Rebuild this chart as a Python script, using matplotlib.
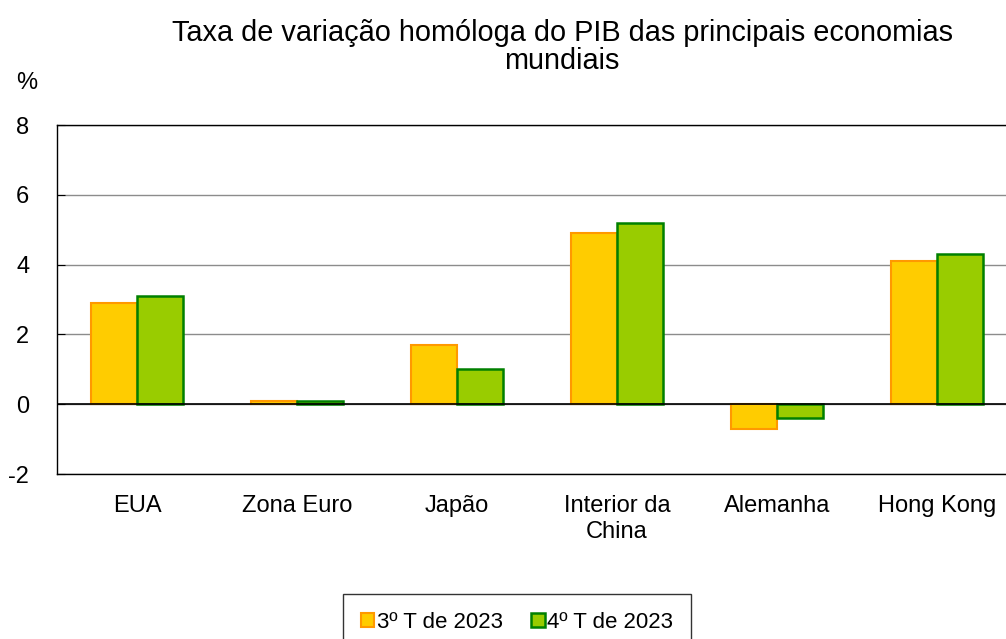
import numpy as np
import matplotlib.pyplot as plt

plt.rcParams['font.family'] = ['Liberation Sans', 'DejaVu Sans']

categories = ["EUA", "Zona Euro", "Japão", "Interior da\nChina", "Alemanha", "Hong Kong"]
q3_2023 = [2.9, 0.1, 1.7, 4.9, -0.7, 4.1]
q4_2023 = [3.1, 0.1, 1.0, 5.2, -0.4, 4.3]
series_labels = ["3º T de 2023", "4º T de 2023"]
y_ticks = [-2, 0, 2, 4, 6, 8]

fig = plt.figure(figsize=(10.06, 6.39), dpi=100)
# axes run past the right edge of the figure, as in the reference
ax = fig.add_axes([57 / 1006, 1 - 474 / 639, 960 / 1006, 349 / 639])

x = np.arange(len(categories))
w = 0.2875
b1 = ax.bar(x - w / 2, q3_2023, w, color="#FFCC00", edgecolor="#FF9900", linewidth=1.5,
            label=series_labels[0], zorder=3)
b2 = ax.bar(x + w / 2, q4_2023, w, color="#99CC00", edgecolor="#008000", linewidth=1.8,
            label=series_labels[1], zorder=3)

ax.set_xlim(-0.5, len(categories) - 0.5)
ax.set_ylim(-2, 8)
ax.set_yticks(y_ticks)
ax.set_yticklabels([str(t) for t in y_ticks])
ax.yaxis.grid(True, color="#8c8c8c", linewidth=1)
ax.axhline(0, color="black", linewidth=1.2, zorder=4)
ax.set_axisbelow(True)
ax.set_xticks(x)
ax.set_xticklabels(categories, fontsize=17, linespacing=1.25)
ax.tick_params(axis="x", length=0, pad=15)
ax.tick_params(axis="y", direction="in", length=6, labelsize=17, pad=20)
for s in ax.spines.values():
    s.set_color("black")
    s.set_linewidth(1)

fig.text(16 / 1006, 1 - 83 / 639, "%", fontsize=17, va="center", ha="left")
fig.text(562 / 1006, 1 - 47 / 639, "Taxa de variação homóloga do PIB das principais economias\nmundiais",
         ha="center", va="center", fontsize=20.8, linespacing=1.02)

leg = fig.legend(handles=[b1, b2], loc="upper center", bbox_to_anchor=(517 / 1006, 1 - 594 / 639),
                 ncol=2, fontsize=16, frameon=True, fancybox=False, edgecolor="black",
                 handlelength=0.6, handleheight=0.6, handletextpad=0.1, columnspacing=1.3,
                 borderpad=0.8, borderaxespad=0)
leg.get_frame().set_linewidth(1)

fig.savefig("out.png", dpi=100)
